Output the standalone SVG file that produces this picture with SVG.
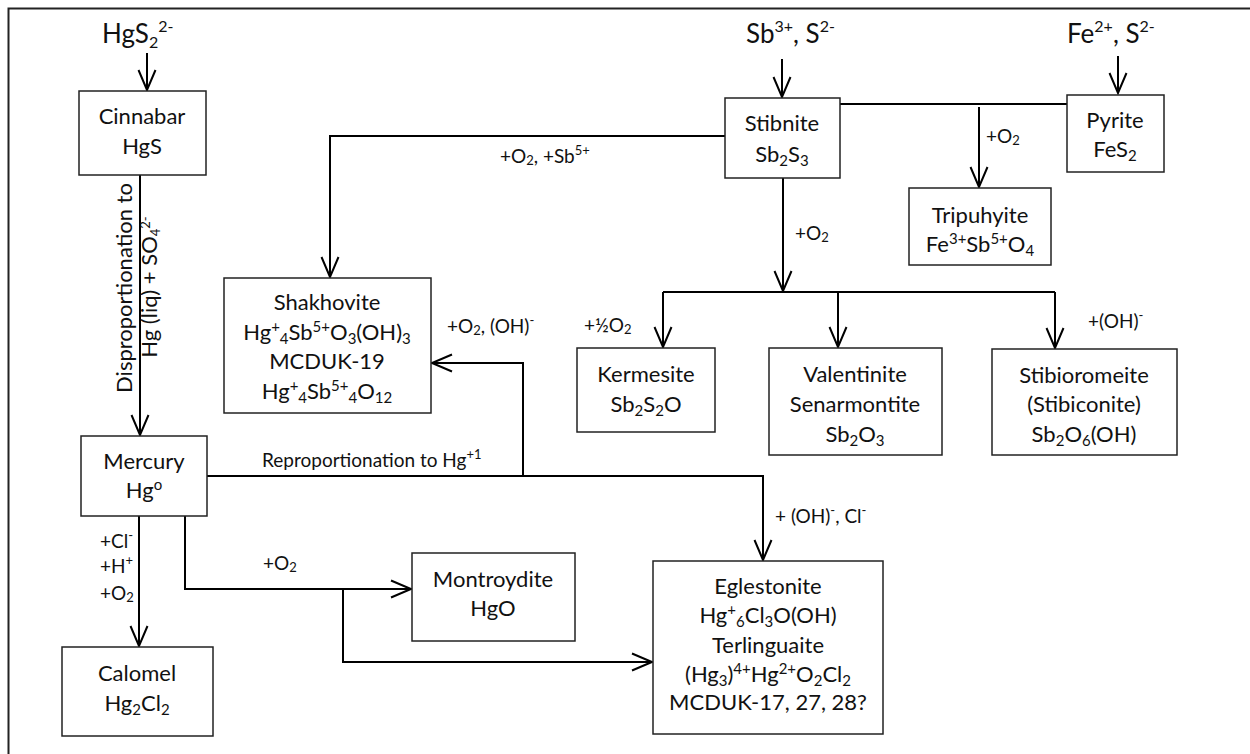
<svg xmlns="http://www.w3.org/2000/svg" width="1250" height="754" viewBox="0 0 1250 754">
<style>
text{font-family:Lato,"Open Sans","Liberation Sans",sans-serif;fill:#111}
.big{font-size:26px}
.bs{font-size:16px}
.box{font-size:22px;text-anchor:middle}
.lbl{font-size:19px}
.s{font-size:15px}
.ls{font-size:13px}
rect.n{fill:#fff;stroke:#222;stroke-width:1.5}
.c{fill:none;stroke:#000;stroke-width:2}
</style>
<defs>
<marker id="arr" markerUnits="userSpaceOnUse" markerWidth="24" markerHeight="20" refX="22" refY="10" orient="auto" viewBox="0 0 24 20">
<path d="M2,1.5 L22,10 L2,18.5" fill="none" stroke="#000" stroke-width="2"/>
</marker>
</defs>
<rect x="0" y="0" width="1250" height="754" fill="#fff"/>
<rect x="8.5" y="8.5" width="1270" height="780" fill="none" stroke="#222" stroke-width="2"/>

<g id="sources">
<text class="big" x="102" y="43">HgS<tspan class="bs" dy="5">2</tspan><tspan class="bs" dy="-16">2-</tspan></text>
<text class="big" x="746" y="43">Sb<tspan class="bs" dy="-11">3+</tspan><tspan dy="11">, S</tspan><tspan class="bs" dy="-11">2-</tspan></text>
<text class="big" x="1067" y="43">Fe<tspan class="bs" dy="-11">2+</tspan><tspan dy="11">, S</tspan><tspan class="bs" dy="-11">2-</tspan></text>
</g>

<g id="connectors">
<path class="c" d="M147,53 V90" marker-end="url(#arr)"/>
<path class="c" d="M782,59 V97" marker-end="url(#arr)"/>
<path class="c" d="M1118,56 V93" marker-end="url(#arr)"/>
<path class="c" d="M140,175 V435" marker-end="url(#arr)"/>
<path class="c" d="M725,136 H330 V277" marker-end="url(#arr)"/>
<path class="c" d="M840,104 H1067"/>
<path class="c" d="M979,107 V187" marker-end="url(#arr)"/>
<path class="c" d="M783,178 V291" marker-end="url(#arr)"/>
<path class="c" d="M663,292 H1055"/>
<path class="c" d="M663,292 V347" marker-end="url(#arr)"/>
<path class="c" d="M838,292 V347" marker-end="url(#arr)"/>
<path class="c" d="M1055,292 V348" marker-end="url(#arr)"/>
<path class="c" d="M207,476 H763 V560" marker-end="url(#arr)"/>
<path class="c" d="M523,477 V363 H432" marker-end="url(#arr)"/>
<path class="c" d="M139,516 V646" marker-end="url(#arr)"/>
<path class="c" d="M185,514 V589 H411" marker-end="url(#arr)"/>
<path class="c" d="M343,589 V662 H652" marker-end="url(#arr)"/>
</g>

<g id="labels">
<text class="lbl" x="500" y="163">+O<tspan class="ls" dy="2">2</tspan><tspan dy="-2">, +Sb</tspan><tspan class="ls" dy="-8">5+</tspan></text>
<text class="lbl" x="986" y="143">+O<tspan class="ls" dy="2">2</tspan></text>
<text class="lbl" x="795" y="240">+O<tspan class="ls" dy="2">2</tspan></text>
<text class="lbl" x="584" y="332">+½O<tspan class="ls" dy="2">2</tspan></text>
<text class="lbl" x="1088" y="328">+(OH)<tspan class="ls" dy="-8">-</tspan></text>
<text class="lbl" x="447" y="333">+O<tspan class="ls" dy="2">2</tspan><tspan dy="-2">, (OH)</tspan><tspan class="ls" dy="-8">-</tspan></text>
<text class="lbl" x="262" y="467">Reproportionation to Hg<tspan class="ls" dy="-8">+1</tspan></text>
<text class="lbl" x="775" y="523">+ (OH)<tspan class="ls" dy="-8">-</tspan><tspan dy="8">, Cl</tspan><tspan class="ls" dy="-8">-</tspan></text>
<text class="lbl" x="100" y="548">+Cl<tspan class="ls" dy="-8">-</tspan></text>
<text class="lbl" x="100" y="573">+H<tspan class="ls" dy="-8">+</tspan></text>
<text class="lbl" x="100" y="600">+O<tspan class="ls" dy="2">2</tspan></text>
<text class="lbl" x="263" y="570">+O<tspan class="ls" dy="2">2</tspan></text>
<text class="box" font-size="18" transform="translate(132,288) rotate(-90)">Disproportionation to</text>
<text class="box" font-size="17" transform="translate(157,287) rotate(-90)">Hg (liq) + SO<tspan class="ls" dy="3">4</tspan><tspan class="ls" dy="-10">2-</tspan></text>
</g>

<g id="cinnabar">
<rect class="n" x="79" y="91" width="127" height="84"/>
<text class="box" x="142" y="124">Cinnabar</text>
<text class="box" x="142" y="154">HgS</text>
</g>
<g id="stibnite">
<rect class="n" x="725" y="98" width="115" height="80"/>
<text class="box" x="782" y="131">Stibnite</text>
<text class="box" x="782" y="162">Sb<tspan class="s" dy="4">2</tspan><tspan dy="-4">S</tspan><tspan class="s" dy="4">3</tspan></text>
</g>
<g id="pyrite">
<rect class="n" x="1067" y="95" width="97" height="77"/>
<text class="box" x="1115" y="128">Pyrite</text>
<text class="box" x="1115" y="157">FeS<tspan class="s" dy="4">2</tspan></text>
</g>
<g id="tripuhyite">
<rect class="n" x="909" y="188" width="142" height="77"/>
<text class="box" x="980" y="223">Tripuhyite</text>
<text class="box" x="980" y="252">Fe<tspan class="s" dy="-8">3+</tspan><tspan dy="8">Sb</tspan><tspan class="s" dy="-8">5+</tspan><tspan dy="8">O</tspan><tspan class="s" dy="4">4</tspan></text>
</g>
<g id="shakhovite">
<rect class="n" x="224" y="278" width="207" height="135"/>
<text class="box" x="327" y="310">Shakhovite</text>
<text class="box" x="327" y="340">Hg<tspan class="s" dy="-8">+</tspan><tspan class="s" dy="12">4</tspan><tspan dy="-4">Sb</tspan><tspan class="s" dy="-8">5+</tspan><tspan dy="8">O</tspan><tspan class="s" dy="4">3</tspan><tspan dy="-4">(OH)</tspan><tspan class="s" dy="4">3</tspan></text>
<text class="box" x="327" y="369">MCDUK-19</text>
<text class="box" x="327" y="399">Hg<tspan class="s" dy="-8">+</tspan><tspan class="s" dy="12">4</tspan><tspan dy="-4">Sb</tspan><tspan class="s" dy="-8">5+</tspan><tspan class="s" dy="12">4</tspan><tspan dy="-4">O</tspan><tspan class="s" dy="4">12</tspan></text>
</g>
<g id="kermesite">
<rect class="n" x="577" y="348" width="138" height="84"/>
<text class="box" x="646" y="382">Kermesite</text>
<text class="box" x="646" y="412">Sb<tspan class="s" dy="4">2</tspan><tspan dy="-4">S</tspan><tspan class="s" dy="4">2</tspan><tspan dy="-4">O</tspan></text>
</g>
<g id="valentinite">
<rect class="n" x="769" y="348" width="173" height="107"/>
<text class="box" x="855" y="382">Valentinite</text>
<text class="box" x="855" y="412">Senarmontite</text>
<text class="box" x="855" y="442">Sb<tspan class="s" dy="4">2</tspan><tspan dy="-4">O</tspan><tspan class="s" dy="4">3</tspan></text>
</g>
<g id="stibioromeite">
<rect class="n" x="992" y="349" width="185" height="106"/>
<text class="box" x="1084" y="383">Stibioromeite</text>
<text class="box" x="1084" y="412">(Stibiconite)</text>
<text class="box" x="1084" y="442">Sb<tspan class="s" dy="4">2</tspan><tspan dy="-4">O</tspan><tspan class="s" dy="4">6</tspan><tspan dy="-4">(OH)</tspan></text>
</g>
<g id="mercury">
<rect class="n" x="81" y="436" width="126" height="80"/>
<text class="box" x="144" y="469">Mercury</text>
<text class="box" x="144" y="498">Hg<tspan class="s" dy="-8">o</tspan></text>
</g>
<g id="montroydite">
<rect class="n" x="412" y="553" width="163" height="88"/>
<text class="box" x="493" y="587">Montroydite</text>
<text class="box" x="493" y="616">HgO</text>
</g>
<g id="eglestonite">
<rect class="n" x="653" y="561" width="230" height="173"/>
<text class="box" x="768" y="594">Eglestonite</text>
<text class="box" x="768" y="623">Hg<tspan class="s" dy="-8">+</tspan><tspan class="s" dy="12">6</tspan><tspan dy="-4">Cl</tspan><tspan class="s" dy="4">3</tspan><tspan dy="-4">O(OH)</tspan></text>
<text class="box" x="768" y="653">Terlinguaite</text>
<text class="box" x="768" y="682">(Hg<tspan class="s" dy="4">3</tspan><tspan dy="-4">)</tspan><tspan class="s" dy="-8">4+</tspan><tspan dy="8">Hg</tspan><tspan class="s" dy="-8">2+</tspan><tspan dy="8">O</tspan><tspan class="s" dy="4">2</tspan><tspan dy="-4">Cl</tspan><tspan class="s" dy="4">2</tspan></text>
<text class="box" x="768" y="710">MCDUK-17, 27, 28?</text>
</g>
<g id="calomel">
<rect class="n" x="62" y="647" width="151" height="89"/>
<text class="box" x="137" y="681">Calomel</text>
<text class="box" x="137" y="711">Hg<tspan class="s" dy="4">2</tspan><tspan dy="-4">Cl</tspan><tspan class="s" dy="4">2</tspan></text>
</g>
</svg>
